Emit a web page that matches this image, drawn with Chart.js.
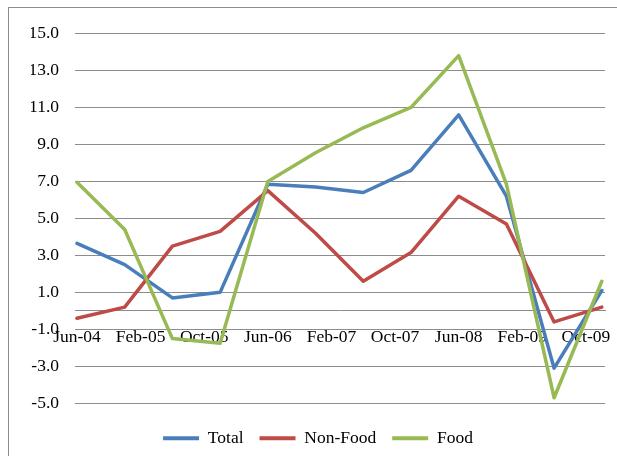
<!DOCTYPE html>
<html>
<head>
<meta charset="utf-8">
<script src="https://cdn.jsdelivr.net/npm/chart.js@4/dist/chart.umd.min.js"></script>
<style>
    html, body { margin: 0; padding: 0; background: #fff; overflow: hidden; width: 617px; height: 456px; }
    #frame { position: absolute; left: 8px; top: 7px; width: 700px; height: 500px; border: 1px solid #8c8c8c; }
    #meuGrafico { position: absolute; left: 8px; top: 7px; }
</style>
</head>
<body>
<div id="frame"></div>
<canvas id="meuGrafico" width="620" height="450"></canvas>
<script>
// datas dos pontos (semestrais) e valores de cada serie
const dates = ['Jun-04', 'Dec-04', 'Jun-05', 'Dec-05', 'Jun-06', 'Dec-06',
               'Jun-07', 'Dec-07', 'Jun-08', 'Dec-08', 'Jun-09', 'Dec-09'];
const total   = [3.65, 2.5, 0.7, 1.0, 6.85, 6.7, 6.4, 7.6, 10.6, 6.2, -3.1, 1.1];
const nonFood = [-0.4, 0.2, 3.5, 4.3, 6.5, 4.2, 1.6, 3.15, 6.2, 4.7, -0.6, 0.2];
const food    = [6.95, 4.4, -1.5, -1.75, 7.0, 8.55, 9.9, 11.0, 13.8, 6.85, -4.7, 1.6];

// rotulos do eixo de datas (a cada 8 meses)
const tickLabels = ['Jun-04', 'Feb-05', 'Oct-05', 'Jun-06', 'Feb-07', 'Oct-07', 'Jun-08', 'Feb-09', 'Oct-09'];

const months = ['Jan', 'Feb', 'Mar', 'Apr', 'May', 'Jun', 'Jul', 'Aug', 'Sep', 'Oct', 'Nov', 'Dec'];
// meses contados a partir de Jun-04
const monthIndex = (label) => {
    const [m, y] = label.split('-');
    return (parseInt(y, 10) - 4) * 12 + months.indexOf(m) - 5;
};
const toPoints = (values) => values.map((v, i) => ({ x: monthIndex(dates[i]), y: v }));

const serif = "'Liberation Serif', 'Times New Roman', serif";
const gridColor = '#8c8c8c';

const ctx = document.getElementById('meuGrafico').getContext('2d');

new Chart(ctx, {
    type: 'line',
    data: {
        datasets: [
            { label: 'Total', data: toPoints(total), borderColor: '#4a7ebb', backgroundColor: '#4a7ebb', order: 3 },
            { label: 'Non-Food', data: toPoints(nonFood), borderColor: '#be4b48', backgroundColor: '#be4b48', order: 2 },
            { label: 'Food', data: toPoints(food), borderColor: '#98b954', backgroundColor: '#98b954', order: 1 }
        ]
    },
    options: {
        responsive: false,
        animation: false,
        devicePixelRatio: 1,
        elements: {
            line: { borderWidth: 3.5, tension: 0, borderJoinStyle: 'round', borderCapStyle: 'round', fill: false },
            point: { radius: 0, hoverRadius: 0, borderWidth: 4 } // borderWidth usado na linha da legenda
        },
        layout: { padding: { left: 23, right: 23, top: 18, bottom: 0 } },
        scales: {
            x: {
                type: 'linear',
                position: { y: 0 },
                min: -0.25,
                max: 66.4,
                grid: { display: false, drawTicks: false },
                border: { display: true, color: gridColor, width: 1 },
                afterBuildTicks: (scale) => {
                    scale.ticks = tickLabels.map(l => ({ value: monthIndex(l) }));
                },
                ticks: {
                    autoSkip: false,
                    maxRotation: 0,
                    padding: 16,
                    color: '#000',
                    font: { family: serif, size: 17.5 },
                    callback: (value, index) => tickLabels[index]
                }
            },
            y: {
                min: -5,
                max: 15,
                afterFit: (scale) => { scale.width = 44; },
                grid: { color: gridColor, lineWidth: 1, drawTicks: false },
                border: { display: false },
                ticks: {
                    stepSize: 2,
                    padding: 16,
                    color: '#000',
                    font: { family: serif, size: 17.5 },
                    callback: (value) => value.toFixed(1)
                }
            }
        },
        plugins: {
            tooltip: { enabled: false },
            legend: {
                display: true,
                position: 'bottom',
                // titulo vazio so para afastar a legenda do grafico
                title: { display: true, text: '', font: { size: 1 }, padding: { top: 9, bottom: 0 } },
                labels: {
                    usePointStyle: true,
                    pointStyle: 'line',
                    pointStyleWidth: 36,
                    padding: 16,
                    color: '#000',
                    font: { family: serif, size: 17.5 },
                    sort: (a, b) => a.datasetIndex - b.datasetIndex
                }
            }
        }
    }
});
</script>
</body>
</html>
